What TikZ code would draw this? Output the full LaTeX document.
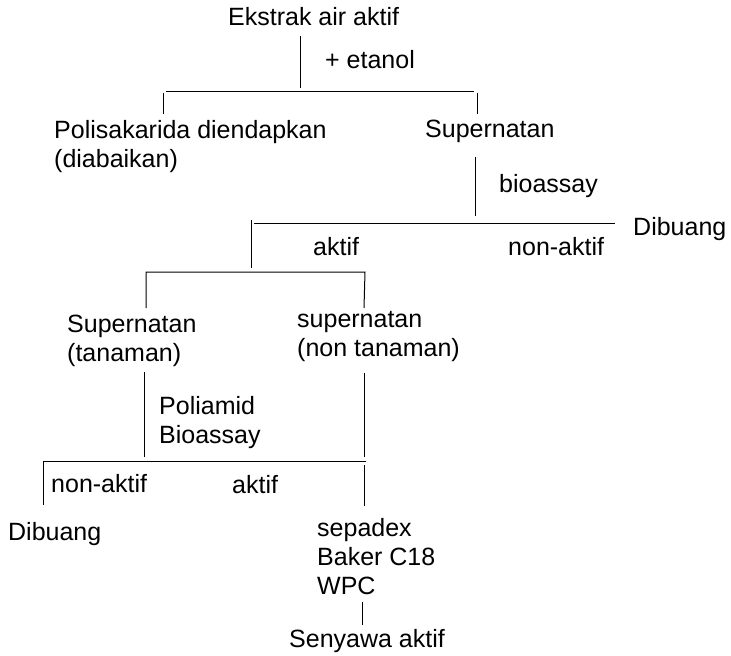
\documentclass[tikz,border=0pt]{standalone}
\usepackage{fontspec}
\setmainfont{Liberation Sans}
\begin{document}
\begin{tikzpicture}[x=1pt, y=-1pt,
    txt/.style={anchor=base west, inner sep=0pt, align=left, font=\fontsize{25}{29}\selectfont},
    bar/.style={line width=1pt, color=black}
]
\useasboundingbox (0,0) rectangle (731,656);

% multi-line nodes sit on the baseline of their last line
\node[txt] (ekstrak) at (228,25) {Ekstrak air aktif};
\node[txt] (etanol) at (325,68) {+ etanol};
\node[txt] (poli) at (54,167) {Polisakarida diendapkan\\(diabaikan)};
\node[txt] (sup) at (425,137) {Supernatan};
\node[txt] (bio) at (499,192) {bioassay};
\node[txt] (buang) at (633,235) {Dibuang};
\node[txt] (aktif) at (313,255) {aktif};
\node[txt] (non) at (508,255) {non-aktif};
\node[txt] (suptan) at (67,361) {Supernatan\\(tanaman)};
\node[txt] (supnon) at (297,356) {supernatan\\(non tanaman)};
\node[txt] (poliamid) at (159,443) {Poliamid\\Bioassay};
\node[txt] (non2) at (51,492) {non-aktif};
\node[txt] (aktif2) at (232,493) {aktif};
\node[txt] (buang2) at (8,540) {Dibuang};
\node[txt] (kolom) at (317,594) {sepadex\\Baker C18\\WPC};
\node[txt] (senyawa) at (289,647) {Senyawa aktif};

% split 1
\coordinate (a1) at (300,36); \coordinate (a2) at (300,88);
\coordinate (b1) at (166,91); \coordinate (b2) at (474,91);
\coordinate (c1) at (163,93); \coordinate (c2) at (163,114);
\coordinate (d1) at (477,93); \coordinate (d2) at (477,114);
\draw[bar] (a1) -- (a2);
\draw[bar] (b1) -- (b2);
\draw[bar] (c1) -- (c2);
\draw[bar] (d1) -- (d2);

% bioassay
\coordinate (e1) at (475,157); \coordinate (e2) at (475,216);
\coordinate (f1) at (254,223); \coordinate (f2) at (615,223);
\coordinate (g1) at (251,220); \coordinate (g2) at (251,268);
\draw[bar] (e1) -- (e2);
\draw[bar] (f1) -- (f2);
\draw[bar] (g1) -- (g2);

% aktif
\coordinate (h1) at (146,272); \coordinate (h2) at (365,272);
\coordinate (h3) at (146,308); \coordinate (h4) at (364,308);
\draw[bar] (h3) -- (h1) -- (h2) -- (h4);

% poliamid
\coordinate (i1) at (144,372); \coordinate (i2) at (144,457);
\coordinate (j1) at (364,373); \coordinate (j2) at (364,457);
\coordinate (k1) at (43,461); \coordinate (k2) at (366,461);
\coordinate (k3) at (43,505); \coordinate (k4) at (364,465); \coordinate (k5) at (364,506);
\draw[bar] (i1) -- (i2);
\draw[bar] (j1) -- (j2);
\draw[bar] (k3) -- (k1) -- (k2);
\draw[bar] (k4) -- (k5);

% kolom
\coordinate (l1) at (362,602); \coordinate (l2) at (362,625);
\draw[bar] (l1) -- (l2);
\end{tikzpicture}
\end{document}
